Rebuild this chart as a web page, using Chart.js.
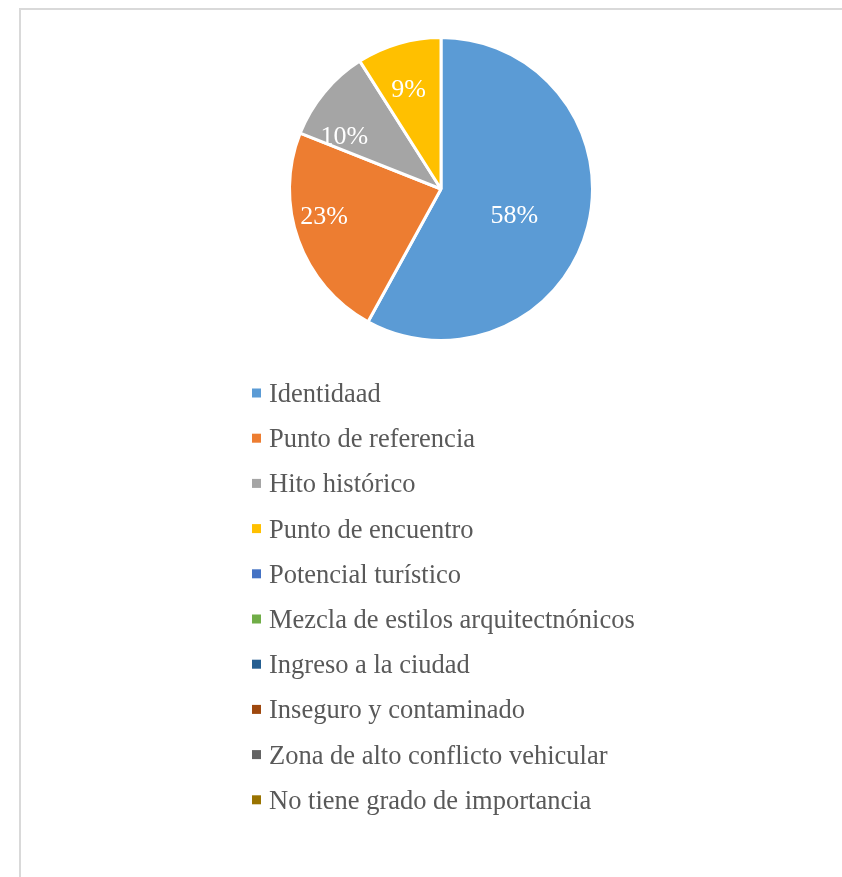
<!DOCTYPE html>
<html>
<head>
<meta charset="utf-8">
<script src="https://cdn.jsdelivr.net/npm/chart.js@4.4.1/dist/chart.umd.min.js"></script>
<style>
  html, body { margin: 0; padding: 0; background: #fff; overflow: hidden; }
  #frame {
    position: absolute; left: 19px; top: 8px; width: 900px; height: 900px;
    border-top: 2px solid #d9d9d9; border-left: 2px solid #d9d9d9;
  }
  #pie { position: absolute; left: 0; top: 0; }
</style>
</head>
<body>
<div id="frame"></div>
<canvas id="pie" width="842" height="877"></canvas>
<script>
const categories = [
  'Identidaad',
  'Punto de referencia',
  'Hito histórico',
  'Punto de encuentro',
  'Potencial turístico',
  'Mezcla de estilos arquitectnónicos',
  'Ingreso a la ciudad',
  'Inseguro y contaminado',
  'Zona de alto conflicto vehicular',
  'No tiene grado de importancia'
];
const shares = [58, 23, 10, 9, 0, 0, 0, 0, 0, 0];
const sliceColors = [
  '#5b9bd5', '#ed7d31', '#a5a5a5', '#ffc000', '#4472c4',
  '#70ad47', '#255e91', '#9e480e', '#636363', '#997300'
];

// percentage labels inside the slices: [radius fraction, position along the slice]
const slicePercent = {
  id: 'slicePercent',
  afterDatasetsDraw(chart, args, opts) {
    const ctx = chart.ctx;
    const meta = chart.getDatasetMeta(0);
    const values = chart.data.datasets[0].data;
    ctx.save();
    ctx.font = opts.font;
    ctx.fillStyle = opts.color;
    ctx.textAlign = 'center';
    ctx.textBaseline = 'alphabetic';
    meta.data.forEach((arc, i) => {
      if (!values[i]) return;
      const {x, y, startAngle, endAngle, outerRadius} = arc.getProps(['x', 'y', 'startAngle', 'endAngle', 'outerRadius'], true);
      const [rf, t] = opts.placement[i] || [0.6, 0.5];
      const a = startAngle + t * (endAngle - startAngle);
      const px = x + Math.cos(a) * outerRadius * rf;
      const py = y + Math.sin(a) * outerRadius * rf;
      ctx.fillText(values[i] + '%', px, py + 9);
    });
    ctx.restore();
  }
};

// single-column legend under the pie
const columnLegend = {
  id: 'columnLegend',
  afterDraw(chart, args, opts) {
    const ctx = chart.ctx;
    const ds = chart.data.datasets[0];
    ctx.save();
    ctx.font = opts.font;
    ctx.textAlign = 'left';
    ctx.textBaseline = 'alphabetic';
    chart.data.labels.forEach((label, i) => {
      const y = opts.top + i * opts.step;
      ctx.fillStyle = ds.backgroundColor[i];
      ctx.fillRect(opts.left, y - 4.5, 9, 9);
      ctx.fillStyle = opts.color;
      ctx.fillText(label, opts.left + 17, y + 9);
    });
    ctx.restore();
  }
};

new Chart(document.getElementById('pie'), {
  type: 'pie',
  data: {
    labels: categories,
    datasets: [{
      data: shares,
      backgroundColor: sliceColors,
      borderColor: '#ffffff',
      borderWidth: 3
    }]
  },
  plugins: [slicePercent, columnLegend],
  options: {
    responsive: false,
    animation: false,
    events: [],
    layout: { padding: { top: 36, bottom: 535, left: 288, right: 248 } },
    plugins: {
      legend: { display: false },
      tooltip: { enabled: false },
      slicePercent: {
        font: '26px "Liberation Serif", "Times New Roman", serif',
        color: '#ffffff',
        placement: [[0.51, 0.52], [0.79, 0.59], [0.73, 0.21], [0.70, 0.45]]
      },
      columnLegend: {
        font: '26.5px "Liberation Serif", "Times New Roman", serif',
        color: '#595959',
        left: 252,
        top: 393,
        step: 45.2
      }
    }
  }
});
</script>
</body>
</html>
